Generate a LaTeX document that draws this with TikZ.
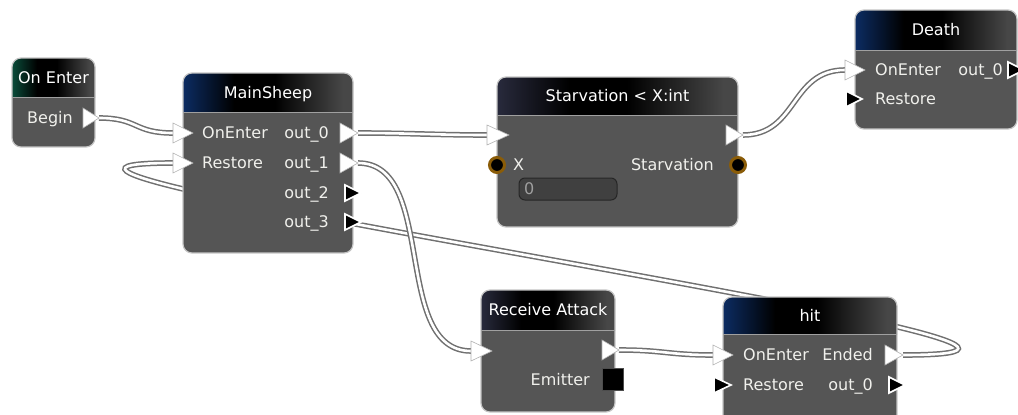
\documentclass[tikz,border=0pt]{standalone}
\usepackage{fontspec}
\setmainfont{DejaVu Sans}
\usetikzlibrary{calc}
\definecolor{bodyg}{HTML}{555555}
\definecolor{boxedge}{HTML}{C4C4C4}
\definecolor{sepline}{HTML}{A0A0A0}
\definecolor{hdrR}{HTML}{474747}
\definecolor{hblue}{HTML}{0C2C62}
\definecolor{hgreen}{HTML}{0A4C3A}
\definecolor{hdark}{HTML}{282A3C}
\definecolor{wireedge}{HTML}{707070}
\definecolor{txt}{HTML}{F0F0EC}
\definecolor{ring}{HTML}{8A5C08}
\definecolor{fieldfill}{HTML}{404040}
\definecolor{fieldedge}{HTML}{262626}
\pgfdeclarehorizontalshading{hdrblue}{100bp}{color(0bp)=(hblue); color(25bp)=(hblue); color(40bp)=(black); color(52bp)=(black); color(72bp)=(hdrR); color(100bp)=(hdrR)}
\pgfdeclarehorizontalshading{hdrgreen}{100bp}{color(0bp)=(hgreen); color(25bp)=(hgreen); color(40bp)=(black); color(52bp)=(black); color(72bp)=(hdrR); color(100bp)=(hdrR)}
\pgfdeclarehorizontalshading{hdrdark}{100bp}{color(0bp)=(hdark); color(25bp)=(hdark); color(40bp)=(black); color(52bp)=(black); color(72bp)=(hdrR); color(100bp)=(hdrR)}
\tikzset{
  wire/.style={draw=wireedge, double=white, double distance=2.6pt, line width=1.5pt},
  lbl/.style={inner sep=0pt, text=txt, font=\fontsize{16}{18}\selectfont, text height=11.5pt, text depth=0pt},
  ttl/.style={lbl, text=white},
  wport/.style={fill=white, draw=gray!60, line width=0.6pt, line join=miter},
  bport/.style={fill=black, draw=white, line width=1.6pt, line join=miter},
  boxline/.style={draw=boxedge, line width=1.2pt, rounded corners=9pt},
}
% #1 name, #2 x1, #3 y1, #4 x2, #5 y2, #6 header bottom, #7 header shading, #8 title
\newcommand\gbox[8]{%
  \begin{scope}
    \clip[rounded corners=9pt] (#2,#3) rectangle (#4,#5);
    \shade[shading=#7] (#2,#3) rectangle (#4,#6);
    \fill[bodyg] (#2,#6) rectangle (#4,#5);
  \end{scope}
  \path[boxline] (#2,#3) rectangle (#4,#5);
  \draw[sepline, line width=1pt] (#2,#6) -- (#4,#6);
  \coordinate (#1) at ({(#2+#4)/2},{(#3+#5)/2});
  \node[ttl] (#1-title) at ({(#2+#4)/2},{(#3+#6)/2}) {#8};
}
% input triangle: style, coordinate (base centre), half height, length
\newcommand\inport[4]{\path[#1] ($(#2)+(0,-#3)$) -- ($(#2)+(#4,0)$) -- ($(#2)+(0,#3)$) -- cycle;}
% output triangle: style, coordinate (tip), half height, length
\newcommand\outport[4]{\path[#1] ($(#2)+(-#4,-#3)$) -- (#2) -- ($(#2)+(-#4,#3)$) -- cycle;}
\begin{document}
\begin{tikzpicture}[x=1pt,y=-1pt]
\clip (0,0) rectangle (1018,415);
\fill[white] (0,0) rectangle (1018,415);

% port coordinates
\coordinate (oe-begin) at (99,118);
\coordinate (ms-in0) at (173,133);
\coordinate (ms-in1) at (173,163);
\coordinate (ms-out0) at (358,133);
\coordinate (ms-out1) at (358,163);
\coordinate (ms-out2) at (361,193);
\coordinate (ms-out3) at (361,222);
\coordinate (st-in) at (487,135);
\coordinate (st-out) at (743,135);
\coordinate (st-x) at (497,165);
\coordinate (st-s) at (738,165);
\coordinate (de-in0) at (845,70);
\coordinate (de-in1) at (846,99);
\coordinate (de-out0) at (1024,70);
\coordinate (ra-in) at (471,351);
\coordinate (ra-out) at (619,350);
\coordinate (hit-in0) at (713,355);
\coordinate (hit-in1) at (714,385);
\coordinate (hit-out0) at (903,355);
\coordinate (hit-out1) at (905,385);

% wires (behind the boxes)
\draw[wire] (hit-out0) .. controls +(345,0) and +(-320,0) .. (ms-in1);
\draw[wire] (oe-begin) .. controls +(40,0) and +(-40,0) .. (ms-in0);
\draw[wire] (ms-out0) .. controls +(50,0) and +(-50,0) .. (st-in);
\draw[wire] (ms-out1) .. controls +(80,0) and +(-80,0) .. (ra-in);
\draw[wire] (st-out) .. controls +(55,0) and +(-55,0) .. (de-in0);
\draw[wire] (ra-out) .. controls +(45,0) and +(-45,0) .. (hit-in0);

% boxes
\gbox{oe}{12}{58}{95}{147}{97}{hdrgreen}{On Enter}
\gbox{ms}{183}{73}{353}{253}{112}{hdrblue}{MainSheep}
\gbox{st}{497}{77}{738}{227}{115}{hdrdark}{Starvation < X:int}
\gbox{de}{855}{10}{1017}{129}{50}{hdrblue}{Death}
\gbox{ra}{481}{290}{615}{412}{330}{hdrdark}{Receive Attack}
\gbox{hit}{723}{297}{897}{440}{334}{hdrblue}{hit}

% labels
\node[lbl] (oe-l0) at (50,118) {Begin};
\node[lbl, anchor=west] (ms-l0) at (202,133) {OnEnter};
\node[lbl, anchor=west] (ms-l1) at (202,163) {Restore};
\node[lbl, anchor=east] (ms-r0) at (329,133) {out\_0};
\node[lbl, anchor=east] (ms-r1) at (329,163) {out\_1};
\node[lbl, anchor=east] (ms-r2) at (329,193) {out\_2};
\node[lbl, anchor=east] (ms-r3) at (329,222) {out\_3};
\node[lbl, anchor=west] (st-l0) at (513,165) {X};
\node[lbl, anchor=east] (st-r0) at (714,165) {Starvation};
\path[fill=fieldfill, draw=fieldedge, line width=1pt, rounded corners=6pt] (519,178) rectangle (617,200);
\node[lbl, anchor=west, text=gray!75] (st-field) at (524,189) {0};
\node[lbl, anchor=west] (de-l0) at (875,70) {OnEnter};
\node[lbl, anchor=west] (de-l1) at (875,99) {Restore};
\node[lbl, anchor=east] (de-r0) at (1003,70) {out\_0};
\node[lbl, anchor=east] (ra-r0) at (590,380) {Emitter};
\node[lbl, anchor=west] (hit-l0) at (743,355) {OnEnter};
\node[lbl, anchor=west] (hit-l1) at (743,385) {Restore};
\node[lbl, anchor=east] (hit-r0) at (873,355) {Ended};
\node[lbl, anchor=east] (hit-r1) at (873,385) {out\_0};

% ports
\outport{wport}{oe-begin}{10}{16}
\inport{wport}{ms-in0}{10}{20}
\inport{wport}{ms-in1}{10}{20}
\outport{wport}{ms-out0}{10}{18}
\outport{wport}{ms-out1}{10}{18}
\outport{bport}{ms-out2}{8}{16}
\outport{bport}{ms-out3}{8}{16}
\inport{wport}{st-in}{10}{22}
\outport{wport}{st-out}{10}{17}
\filldraw[fill=black, draw=ring, line width=3pt] (st-x) circle (7.5);
\filldraw[fill=black, draw=ring, line width=3pt] (st-s) circle (7.5);
\inport{wport}{de-in0}{10}{20}
\inport{bport}{de-in1}{8}{16}
\outport{bport}{de-out0}{8}{16}
\inport{wport}{ra-in}{10}{21}
\outport{wport}{ra-out}{10}{17}
\filldraw[fill=black, draw=gray!60!black, line width=0.6pt] (602,368) rectangle (623,390);
\inport{wport}{hit-in0}{10}{20}
\inport{bport}{hit-in1}{8}{17}
\outport{wport}{hit-out0}{10}{18}
\outport{bport}{hit-out1}{8}{16}
\end{tikzpicture}
\end{document}
